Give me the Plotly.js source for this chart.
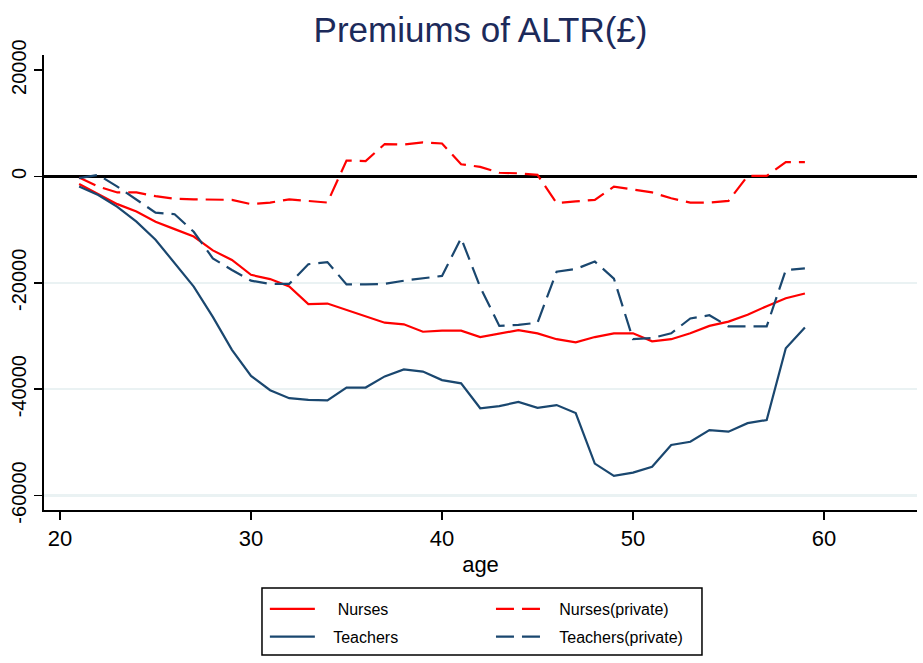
<!DOCTYPE html>
<html>
<head>
<meta charset="utf-8">
<script src="https://cdn.plot.ly/plotly-3.0.1.min.js"></script>
<style>
  body { margin: 0; background: #fff; }
  #chart { width: 923px; height: 663px; }
</style>
</head>
<body>
<div id="chart"></div>
<script>
// ages on the x axis
var ages = [21,22,23,24,25,26,27,28,29,30,31,32,33,34,35,36,37,38,39,40,
            41,42,43,44,45,46,47,48,49,50,51,52,53,54,55,56,57,58,59];

// premiums (GBP)
var nurses = [-1400,-3350,-5200,-6600,-8500,-9900,-11300,-13900,-15700,-18500,
              -19300,-20700,-24000,-23900,-25100,-26300,-27500,-27800,-29200,-29000,
              -29000,-30200,-29500,-28900,-29500,-30600,-31200,-30200,-29500,-29500,
              -31000,-30600,-29500,-28100,-27300,-26000,-24400,-22900,-22000];

var teachers = [-1900,-3500,-5700,-8500,-11900,-16200,-20700,-26400,-32600,-37500,
                -40200,-41700,-42000,-42100,-39700,-39700,-37600,-36300,-36700,-38300,
                -38900,-43600,-43200,-42400,-43500,-43000,-44500,-54000,-56300,-55700,
                -54600,-50500,-49900,-47700,-48000,-46400,-45800,-32300,-28400];

var nursesPrivate = [-200,-1900,-3000,-3000,-3700,-4200,-4300,-4300,-4400,-5200,
                     -4900,-4300,-4600,-4900,3000,2900,6100,6000,6400,6200,
                     2300,1800,700,600,300,-5000,-4700,-4400,-1900,-2500,
                     -3000,-4100,-4900,-4900,-4600,100,100,2700,2700];

var teachersPrivate = [-300,300,-1900,-4300,-6800,-7100,-10400,-15400,-17600,-19600,
                       -20200,-20200,-16500,-16100,-20300,-20300,-20200,-19600,-19100,-18700,
                       -11600,-20800,-28100,-27900,-27500,-17900,-17400,-16000,-19200,-30600,
                       -30400,-29500,-26700,-26100,-28200,-28200,-28200,-17600,-17300];

var xTicks = [20, 30, 40, 50, 60];
var yTicks = [-60000, -40000, -20000, 0, 20000];
var gridVals = [-60000, -40000, -20000];

var red = "#ff0000";
var navy = "#1a476f";
var dashPat = "18px,8px";
var font = "Arial, 'Liberation Sans', sans-serif";
var pad = function (n) { return "\u00a0".repeat(n); };  // legend text indent

var traces = [
  { x: ages, y: nurses, name: pad(4) + "Nurses", mode: "lines", legend: "legend",
    legendgroup: "a", line: { color: red, width: 2.2 } },
  { x: ages, y: nursesPrivate, name: pad(3) + "Nurses(private)", mode: "lines", legend: "legend2",
    legendgroup: "c", line: { color: red, width: 2.2, dash: dashPat } },
  { x: ages, y: teachers, name: pad(3) + "Teachers", mode: "lines", legend: "legend",
    legendgroup: "b", line: { color: navy, width: 2.2 } },
  { x: ages, y: teachersPrivate, name: pad(3) + "Teachers(private)", mode: "lines", legend: "legend2",
    legendgroup: "d", line: { color: navy, width: 2.2, dash: dashPat } }
];

var yRange = [-62730, 22850];

var layout = {
  width: 923, height: 663,
  margin: { l: 44, r: 6, t: 55, b: 153 },
  paper_bgcolor: "#fff", plot_bgcolor: "#fff",
  font: { family: font, color: "#000" },
  showlegend: true,
  title: { text: "Premiums of ALTR(£)", font: { size: 35, color: "#1c2a5a", family: font },
           x: 0.5, xref: "paper", xanchor: "center", y: 0.955, yanchor: "middle" },
  xaxis: {
    range: [19.16, 64.87], tickvals: xTicks, ticks: "outside", ticklen: 8, tickwidth: 1.5,
    tickcolor: "#000", showline: true, linecolor: "#000", linewidth: 2,
    showgrid: false, zeroline: false, tickfont: { size: 22 },
    title: { text: "age", font: { size: 22 }, standoff: 6 }
  },
  yaxis: {
    range: yRange, tickvals: yTicks, ticktext: yTicks.map(String), tickangle: -90,
    ticks: "outside", ticklen: 8, tickwidth: 1.5, tickcolor: "#000",
    showline: true, linecolor: "#000", linewidth: 2, showgrid: false,
    zeroline: true, zerolinecolor: "#000", zerolinewidth: 3,
    tickfont: { size: 20 }
  },
  yaxis2: {
    overlaying: "y", range: yRange, tickvals: gridVals, showgrid: true,
    gridcolor: "#eaf2f3", gridwidth: 2.5, showticklabels: false, ticks: "",
    showline: false, zeroline: false
  },
  legend: {
    x: 0.253, xanchor: "left", y: -0.18, yanchor: "top",
    font: { size: 16 }, bgcolor: "rgba(0,0,0,0)", itemwidth: 45, tracegroupgap: 4
  },
  legend2: {
    x: 0.512, xanchor: "left", y: -0.18, yanchor: "top",
    font: { size: 16 }, bgcolor: "rgba(0,0,0,0)", itemwidth: 45, tracegroupgap: 4
  },
  shapes: [
    { type: "rect", xref: "paper", yref: "paper", x0: 0.2497, x1: 0.7537, y0: -0.3187, y1: -0.1714,
      line: { color: "#000", width: 1.5 }, fillcolor: "rgba(0,0,0,0)" }
  ]
};

// invisible point on yaxis2 so the grid axis is drawn
traces.push({ x: [ages[0]], y: [0], yaxis: "y2", mode: "markers", showlegend: false,
              hoverinfo: "skip", marker: { opacity: 0 } });

Plotly.newPlot("chart", traces, layout, { staticPlot: true });
</script>
</body>
</html>
